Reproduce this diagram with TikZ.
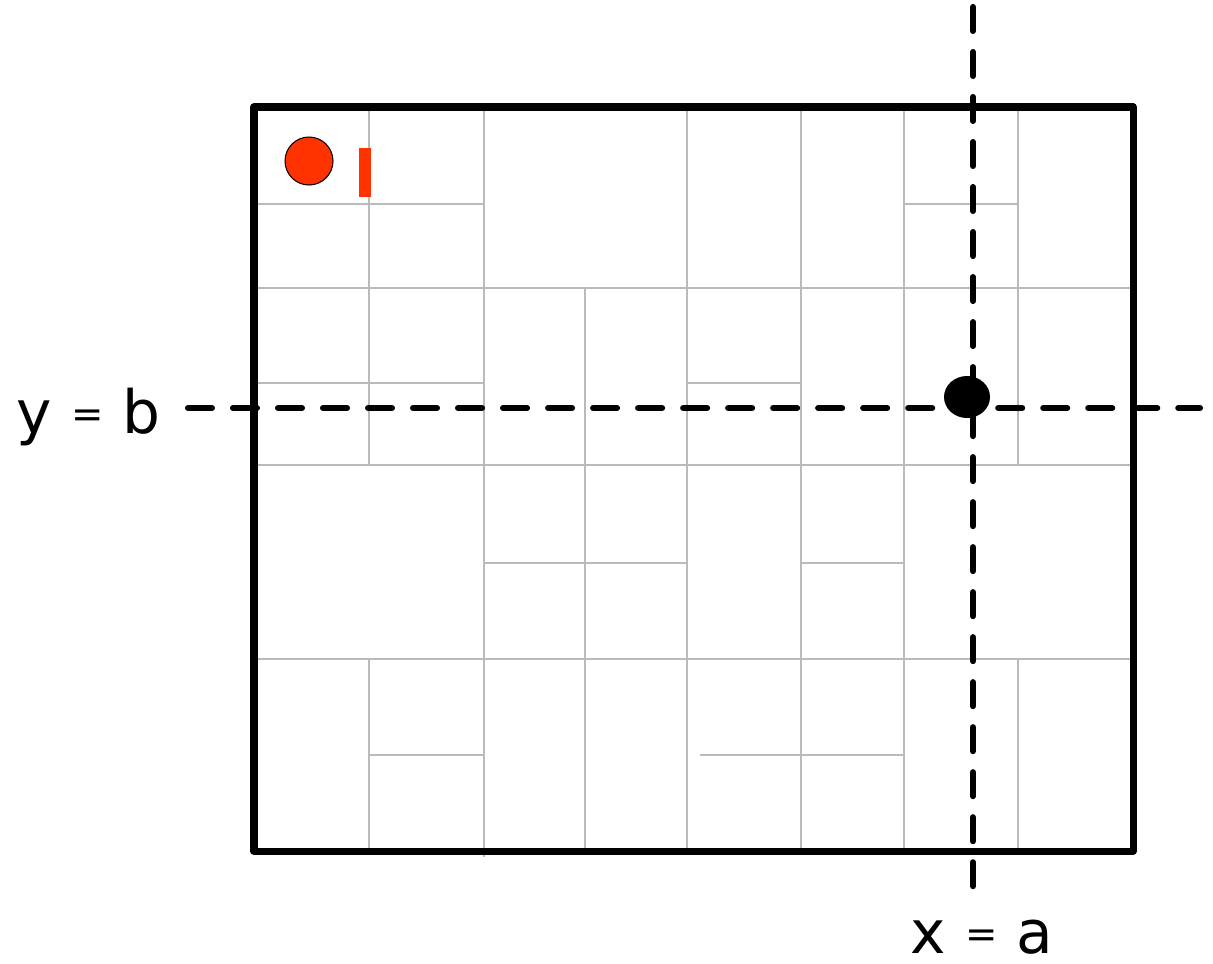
\documentclass[tikz,border=0pt]{standalone}
\usepackage{fontspec}
\setmainfont{DejaVu Sans}
\usepackage{xcolor}
\usepackage{tikz}
\definecolor{rot}{HTML}{FF3300}
\newcommand{\kleingleich}{\raisebox{1.6pt}{\fontsize{11}{12}\selectfont=}}

\begin{document}
\begin{tikzpicture}[x=0.01cm,y=-0.01cm,
  gitter/.style={draw=black!27,line width=0.4pt},
  rand/.style={line width=2pt,line join=round},
  strich/.style={line width=1.75pt,line cap=round,dash pattern=on 6.8pt off 6pt},
  beschr/.style={font=\fontsize{17}{20}\selectfont,inner sep=0pt,anchor=base west}]
  \useasboundingbox (0,0) rectangle (1213,963);
  % Zellen
  \draw[gitter] (369,104) -- (369,465) (369,659) -- (369,855);
  \draw[gitter] (484,104) -- (484,857);
  \draw[gitter] (585,288) -- (585,855);
  \draw[gitter] (687,104) -- (687,855);
  \draw[gitter] (801,104) -- (801,855);
  \draw[gitter] (904,104) -- (904,855);
  \draw[gitter] (1018,104) -- (1018,465) (1018,659) -- (1018,855);
  \draw[gitter] (251,204) -- (484,204) (904,204) -- (1018,204);
  \draw[gitter] (251,288) -- (1136,288);
  \draw[gitter] (251,383) -- (484,383) (687,383) -- (801,383);
  \draw[gitter] (251,465) -- (1136,465);
  \draw[gitter] (484,563) -- (687,563) (801,563) -- (904,563);
  \draw[gitter] (251,659) -- (1136,659);
  \draw[gitter] (369,755) -- (484,755) (700,755) -- (904,755);
  \draw[rand] (254,107) rectangle (1133,851);       % Rand
  \filldraw[fill=rot,draw=black,line width=0.3pt] (309,161) circle (24);
  \fill[rot] (359,148) rectangle (371,197);
  % Geraden
  \coordinate (ylinks) at (188,408);
  \coordinate (yrechts) at (1200,408);
  \coordinate (xoben) at (973,7);
  \coordinate (xunten) at (973,887);
  \draw[strich] (ylinks) -- (yrechts);
  \draw[strich] (xoben) -- (xunten);
  \fill (967,397) ellipse (23 and 21);              % Punkt
  \node[beschr] (ylab) at (16,433) {y \kleingleich{} b};
  \node[beschr] (xlab) at (910,953) {x \kleingleich{} a};
\end{tikzpicture}
\end{document}
